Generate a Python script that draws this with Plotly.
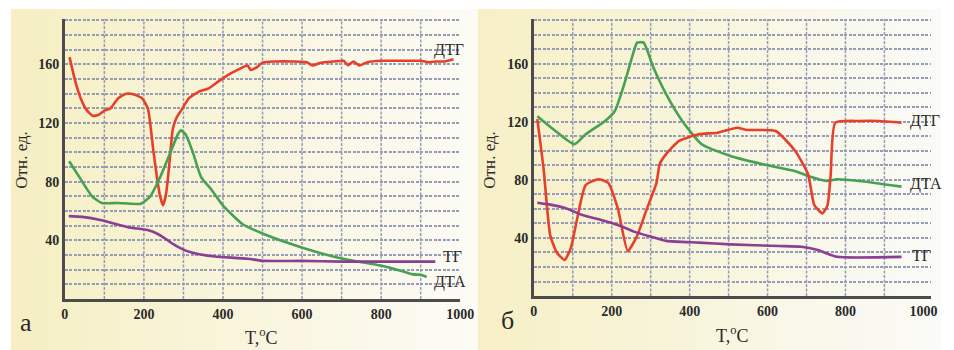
import plotly.graph_objects as go

# ---------- data ----------
# Panel "а"
A_DTG_T = [12, 25, 40, 55, 70, 85, 100, 115, 135, 155, 175, 195, 210, 224, 233, 241, 248, 255, 261, 267,
           273, 283, 294, 314, 339, 364, 388, 413, 437, 462, 470, 485, 501, 530, 580, 612, 627, 645, 680, 705,
           716, 730, 745, 765, 800, 850, 900, 920, 940, 960, 983]
A_DTG_V = [165, 150, 137, 129, 125, 125.5, 128.5, 130, 137, 140, 139.5, 137, 130, 101, 83, 70, 64, 70, 83, 100,
           116, 124, 128.5, 137, 141.5, 143.7, 148.3, 152.9, 156.3, 159.3, 156.3, 158, 161.4, 162, 162, 161.5, 159.3, 161, 162, 162.5,
           159.5, 162, 159.3, 161.5, 162.5, 162.5, 162.5, 161.5, 162, 162, 163.5]
A_DTA_T = [11, 36, 69, 93, 134, 192, 216, 241, 265, 286, 294, 306, 323, 345, 371, 396, 421, 450, 503, 601,
           700, 798, 840, 880, 900, 915]
A_DTA_V = [94, 83.5, 70, 65.5, 65.5, 65, 70, 83, 98.6, 112.4, 115, 112, 100.7, 83, 74.5, 65, 58, 51, 44.3, 35,
           27.6, 22.8, 20, 16.8, 16.5, 15]
A_TG_T = [10, 44, 93, 160, 209, 233, 255, 273, 306, 340, 380, 462, 503, 600, 700, 800, 937]
A_TG_V = [56.5, 56, 53.7, 49, 47, 44.7, 41, 37.6, 33, 30.5, 29, 27.5, 26, 26, 25.5, 25.5, 25.5]

# Panel "б"
B_DTG_T = [9, 25, 42, 59, 79, 95, 108, 133, 166, 191, 216, 241, 265, 290, 315, 323, 340, 373, 423, 472,
           522, 547, 621, 671, 704, 720, 741, 754, 762, 774, 836, 886, 944]
B_DTG_V = [122, 88, 42, 30, 24.8, 33, 49, 76.5, 80.5, 78, 60, 31, 41.4, 60, 78, 90.8, 98, 107, 111.5, 112.6,
           116, 114.5, 113.8, 100, 84, 62.7, 57, 62.7, 83.4, 119.5, 120.7, 120.7, 119.5]
B_DTA_T = [9, 50, 104, 133, 183, 208, 232, 257, 265, 282, 307, 340, 381, 431, 505, 588, 670, 704, 754, 778, 836, 944]
B_DTA_V = [124, 115, 104.6, 111.5, 120.7, 127.6, 146, 169, 174.7, 174.7, 157.5, 139, 120.7, 104.6, 96.5, 90.8,
           86.2, 82.8, 79.3, 80.5, 79.3, 75.4]
B_TG_T = [9, 42, 84, 125, 175, 216, 257, 299, 340, 423, 505, 630, 687, 729, 778, 944]
B_TG_V = [64.3, 63, 60.4, 55.8, 52.3, 49, 44.4, 41, 38, 36.8, 35.6, 34.5, 34, 31.7, 27, 27]

X_TICKS = [0, 200, 400, 600, 800, 1000]
X_GRID = [100, 200, 300, 400, 500, 600, 700, 800, 900]
Y_TICKS = [40, 80, 120, 160]
Y_MINOR = [v for v in range(10, 200, 10) if v not in Y_TICKS]

# ---------- style ----------
W, H = 954, 350
RED, GREEN, PURPLE = "#e6402c", "#46a152", "#8c3d94"
GRIDC = "#949db3"
AXC = "#4c4c4c"
FONT = "Liberation Serif"
TXT = "#2a2a2a"
DASH = "3px,1.5px"


def px(x):
    return x / W


def py(y):
    return 1 - y / H


fig = go.Figure()

series = [
    ("x", "y", A_DTG_T, A_DTG_V, RED),
    ("x", "y", A_DTA_T, A_DTA_V, GREEN),
    ("x", "y", A_TG_T, A_TG_V, PURPLE),
    ("x2", "y2", B_DTA_T, B_DTA_V, GREEN),
    ("x2", "y2", B_DTG_T, B_DTG_V, RED),
    ("x2", "y2", B_TG_T, B_TG_V, PURPLE),
]
for xa, ya, t, v, c in series:
    fig.add_trace(go.Scatter(x=t, y=v, xaxis=xa, yaxis=ya, mode="lines",
                             line=dict(color=c, width=2.6, shape="spline", smoothing=0.5),
                             showlegend=False, hoverinfo="skip"))

shapes = []
# gradient panel backgrounds
def gradient(x0, x1, y0, y1, c0, c1, n=30):
    out = []
    for i in range(n):
        f = i / (n - 1)
        col = tuple(int(round(c0[k] + (c1[k] - c0[k]) * f)) for k in range(3))
        a = x0 + (x1 - x0) * i / n
        b = x0 + (x1 - x0) * (i + 1) / n + 0.6
        out.append(dict(type="rect", xref="paper", yref="paper", x0=px(a), x1=px(b),
                        y0=py(y1), y1=py(y0), line=dict(width=0),
                        fillcolor="rgb(%d,%d,%d)" % col, layer="below"))
    return out

shapes += gradient(7, 483, 9, 350, (246, 239, 196), (252, 251, 245))
shapes += gradient(483, 954, 9, 350, (247, 240, 198), (250, 250, 246))

for xr, yr in (("x", "y domain"), ("x2", "y2 domain")):
    for g in X_GRID:
        shapes.append(dict(type="line", xref=xr, yref=yr, x0=g, x1=g, y0=0, y1=1,
                           line=dict(color=GRIDC, width=1.5, dash=DASH), layer="below"))

fig.update_layout(shapes=shapes)

tfont = dict(family=FONT, size=14, color=TXT, weight="bold")
axis_common_x = dict(tickvals=X_TICKS, ticktext=[str(v) for v in X_TICKS],
                     showgrid=False, zeroline=False, showline=True, linecolor=AXC, linewidth=2.5,
                     ticks="", tickfont=tfont)
axis_common_y = dict(range=[0, 191], tickvals=Y_TICKS, ticktext=[str(v) for v in Y_TICKS],
                     showgrid=True, gridcolor=GRIDC, gridwidth=1.5, griddash=DASH,
                     minor=dict(tickvals=Y_MINOR, showgrid=True, gridcolor=GRIDC, gridwidth=1.5,
                                griddash=DASH, ticks=""),
                     zeroline=False, showline=True, linecolor=AXC, linewidth=2.5,
                     ticks="", tickfont=tfont)

fig.update_layout(
    width=W, height=H,
    margin=dict(l=0, r=0, t=0, b=0),
    paper_bgcolor="white",
    plot_bgcolor="rgba(0,0,0,0)",
    font=dict(family=FONT, color=TXT),
    xaxis=dict(domain=[px(62), px(465)], anchor="y", range=[0, 1000], **axis_common_x),
    yaxis=dict(domain=[py(299), py(19)], anchor="x", **axis_common_y),
    xaxis2=dict(domain=[px(540), px(945)], anchor="y2", range=[0, 1020], **axis_common_x),
    yaxis2=dict(domain=[py(296), py(19)], anchor="x2", **axis_common_y),
)

ann = []
def label(text, x, y, size, xanchor="left", angle=0):
    ann.append(dict(text=text, x=px(x), y=py(y), xref="paper", yref="paper", showarrow=False,
                    xanchor=xanchor, yanchor="middle", textangle=angle,
                    font=dict(family=FONT, size=size, color=TXT)))

label("ДТГ", 436, 50, 16)
label("ТГ", 445, 256, 16)
label("ДТА", 436, 282, 16)
label("ДТГ", 921, 121, 16)
label("ДТА", 921, 184, 16)
label("ТГ", 923, 255, 16)
label("а", 22, 322, 26, "center")
label("б", 513, 320, 26, "center")
label("T,<sup>o</sup>C", 262, 336, 18, "center")
label("T,<sup>o</sup>C", 742, 334, 18, "center")
label("Отн. ед.", 18, 160, 17, "center", -90)
label("Отн. ед.", 495, 160, 17, "center", -90)
fig.update_layout(annotations=ann)

fig.write_html("out.html")
